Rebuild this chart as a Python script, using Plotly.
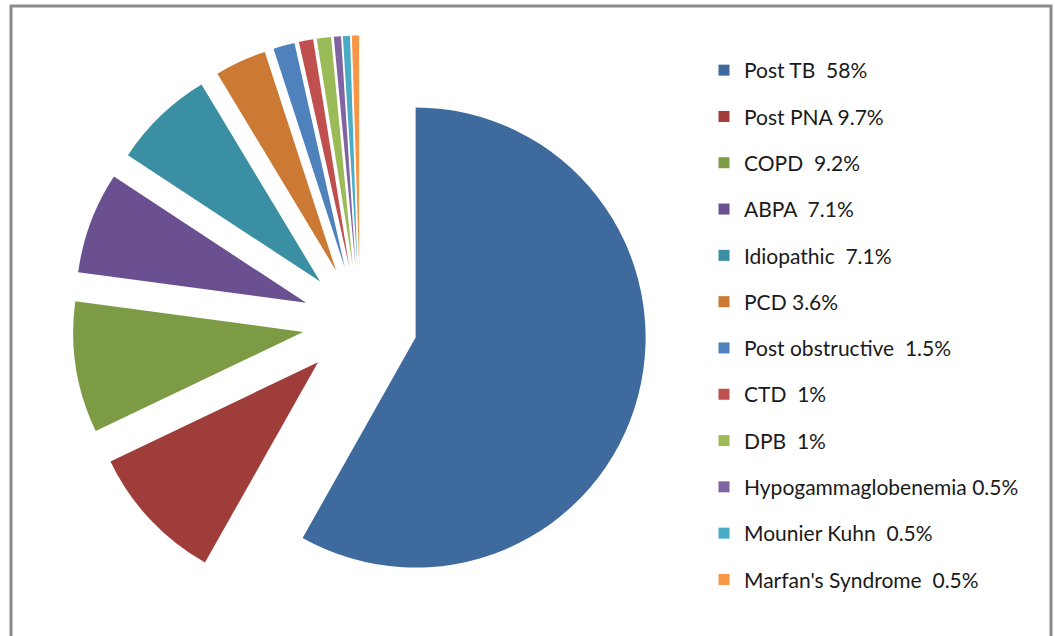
import plotly.graph_objects as go

W, H = 1055, 636

categories = ["Post TB", "Post PNA", "COPD", "ABPA", "Idiopathic", "PCD",
              "Post obstructive", "CTD", "DPB", "Hypogammaglobenemia",
              "Mounier Kuhn", "Marfan's Syndrome"]
values = [58, 9.7, 9.2, 7.1, 7.1, 3.6, 1.5, 1, 1, 0.5, 0.5, 0.5]
legend_labels = ["Post TB\u00a0 58%", "Post PNA 9.7%", "COPD\u00a0 9.2%",
                 "ABPA\u00a0 7.1%", "Idiopathic\u00a0 7.1%", "PCD 3.6%",
                 "Post obstructive\u00a0 1.5%", "CTD\u00a0 1%", "DPB\u00a0 1%",
                 "Hypogammaglobenemia 0.5%", "Mounier Kuhn\u00a0 0.5%",
                 "Marfan's Syndrome\u00a0 0.5%"]
colors = ["#3E6A9E", "#9E3D3A", "#7D9B45", "#6A5090", "#3A8FA3", "#CC7A33",
          "#4F81BD", "#C0504D", "#9BBB59", "#8064A2", "#4BACC6", "#F79646"]

# pie geometry (pixels)
cx, cy, half = 360, 323, 287.5

fig = go.Figure()
fig.add_trace(go.Pie(
    labels=categories, values=values, sort=False, direction="clockwise",
    rotation=0, pull=[0.25] * len(values), textinfo="none",
    marker=dict(colors=colors, line=dict(width=0)), showlegend=False,
    domain=dict(x=[(cx - half) / W, (cx + half) / W],
                y=[1 - (cy + half) / H, 1 - (cy - half) / H]),
))

for lab, col in zip(legend_labels, colors):
    fig.add_trace(go.Scatter(
        x=[None], y=[None], mode="markers", name=lab, legendgroup=lab,
        marker=dict(symbol="square", size=11, color=col),
    ))

fig.update_layout(
    width=W, height=H,
    margin=dict(l=0, r=0, t=0, b=0),
    paper_bgcolor="white", plot_bgcolor="white",
    xaxis=dict(visible=False), yaxis=dict(visible=False),
    showlegend=True,
    legend=dict(x=704 / W, y=1 - 50 / H, xanchor="left", yanchor="top",
                font=dict(family="Lato, Liberation Sans, Arial, sans-serif",
                          size=21, color="#1a1a1a"),
                tracegroupgap=16, traceorder="grouped",
                bgcolor="rgba(0,0,0,0)"),
    shapes=[dict(type="rect", xref="paper", yref="paper",
                 x0=11 / W, x1=1051 / W, y0=-0.05, y1=1 - 6 / H,
                 line=dict(color="#8C8C8C", width=3))],
)

fig.write_html("out.html", config={"displayModeBar": False},
               post_script="document.body.style.margin='0';document.body.style.overflow='hidden';")
